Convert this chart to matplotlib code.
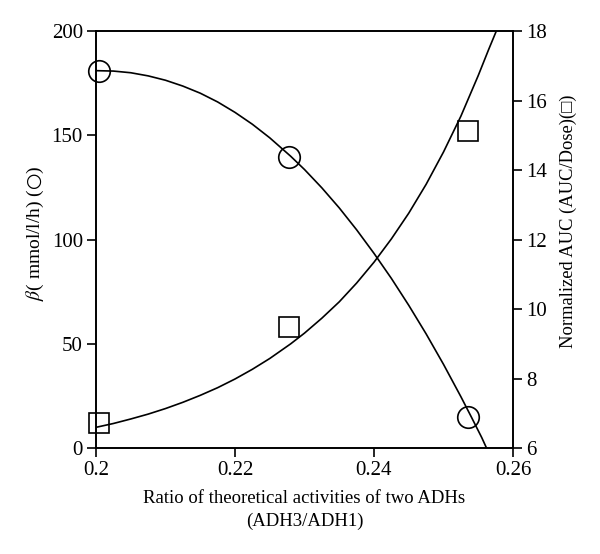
import matplotlib
matplotlib.use("Agg")
import matplotlib.pyplot as plt

plt.rcParams['font.family'] = ['Liberation Serif', 'DejaVu Serif', 'DejaVu Sans']
plt.rcParams['mathtext.fontset'] = 'stix'

# measured points
ratio = [0.2005, 0.2277, 0.2535]
beta = [181, 139.6, 14.9]
auc = [6.72, 9.48, 15.12]

# fitted curves
beta_curve_x = [0.200, 0.2025, 0.205, 0.2075, 0.210, 0.2125, 0.215, 0.2175,
                0.220, 0.2225, 0.225, 0.228, 0.230, 0.2325, 0.235, 0.2375,
                0.240, 0.2425, 0.245, 0.2475, 0.250, 0.2525, 0.254, 0.2555, 0.2562]
beta_curve_y = [181, 180.8, 180, 178.5, 176.4, 173.6, 170.2, 166.0,
                161, 155.3, 148.8, 140, 133.6, 124.8, 115.2, 104.7,
                93.4, 81.4, 68.5, 54.8, 40.2, 24.7, 15, 5.1, 0]
auc_curve_x = [0.200, 0.2025, 0.205, 0.2075, 0.210, 0.2125, 0.215, 0.2175,
               0.220, 0.2225, 0.225, 0.228, 0.230, 0.2325, 0.235, 0.2375,
               0.240, 0.2425, 0.245, 0.2475, 0.250, 0.2525, 0.255, 0.2565, 0.2576]
auc_curve_y = [6.6, 6.71, 6.84, 6.98, 7.14, 7.32, 7.52, 7.74,
               7.99, 8.27, 8.58, 9.0, 9.31, 9.74, 10.21, 10.75,
               11.35, 12.02, 12.76, 13.59, 14.52, 15.55, 16.72, 17.47, 18.0]

x_ticks = [0.2, 0.22, 0.24, 0.26]
x_labels = ['0.2', '0.22', '0.24', '0.26']
left_ticks = [0, 50, 100, 150, 200]
right_ticks = [6, 8, 10, 12, 14, 16, 18]

fig = plt.figure(figsize=(6, 5.54), dpi=100)
ax = fig.add_axes([0.16, 0.191, 0.695, 0.753])
ax2 = ax.twinx()

lw = 1.2
ax.plot(beta_curve_x, beta_curve_y, color='black', lw=lw)
ax.plot(ratio, beta, 'o', ms=15.5, mfc='none', mec='black', mew=lw, clip_on=False)
ax2.plot(auc_curve_x, auc_curve_y, color='black', lw=lw)
ax2.plot(ratio, auc, 's', ms=15, mfc='none', mec='black', mew=lw, clip_on=False)

ax.set_xlim(0.2, 0.26)
ax.set_ylim(0, 200)
ax2.set_ylim(6, 18)
ax.set_xticks(x_ticks)
ax.set_xticklabels(x_labels)
ax.set_yticks(left_ticks)
ax2.set_yticks(right_ticks)

for a in (ax, ax2):
    for s in a.spines.values():
        s.set_linewidth(lw)
    a.tick_params(direction='out', length=6.5, width=lw, labelsize=15, pad=3)

ax.set_xlabel('Ratio of theoretical activities of two ADHs\n(ADH3/ADH1)',
              fontsize=13.5, labelpad=7, linespacing=1.4)
ax.set_ylabel(r'$\beta$( mmol/l/h) ($\bigcirc$)', fontsize=14)
ax2.set_ylabel('Normalized AUC (AUC/Dose)(□)', fontsize=13.3)
ax.yaxis.set_label_coords(-0.121, 0.515)
ax2.yaxis.set_label_coords(1.113, 0.545)

fig.savefig('out.png', dpi=100)
